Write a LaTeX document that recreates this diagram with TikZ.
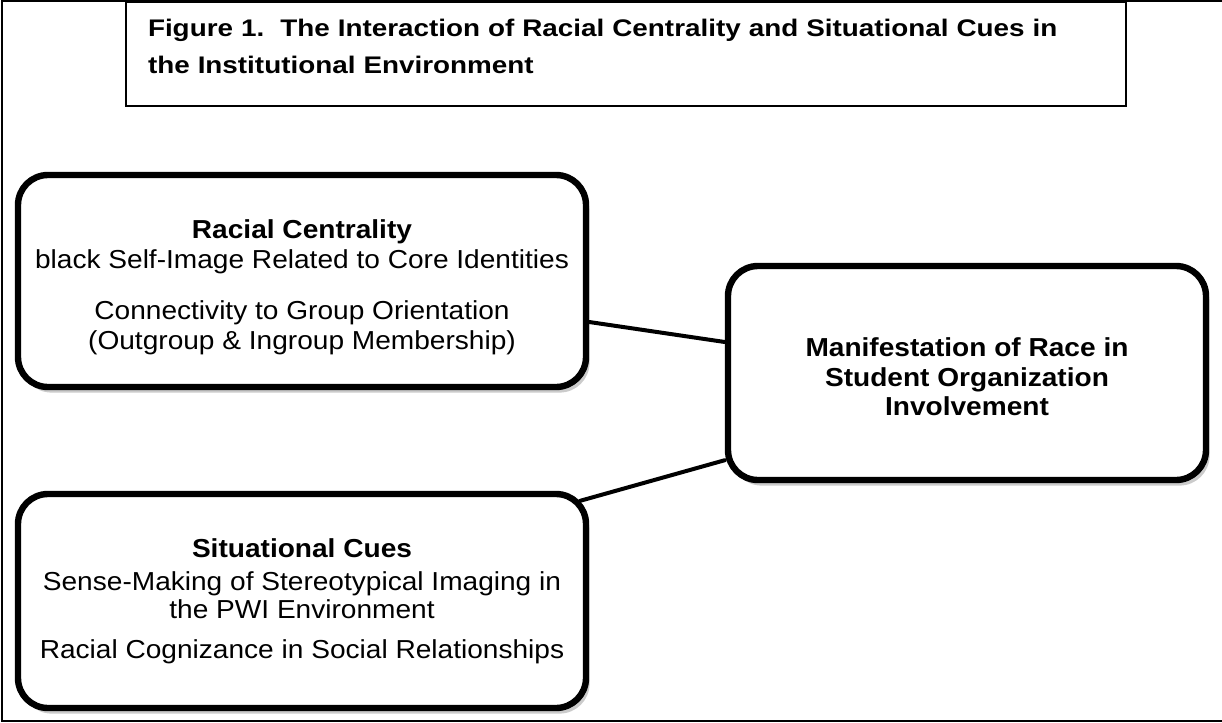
\documentclass[tikz,border=0pt]{standalone}
\usepackage{fontspec}
\setmainfont{Liberation Sans}[FakeStretch=1.08]
\newfontfamily\headfont{Liberation Sans}[FakeStretch=1.16]
\usepackage{xcolor}
\usepackage{tikz}
\usetikzlibrary{shadows,positioning}
\definecolor{ink}{HTML}{000000}
\definecolor{paper}{HTML}{FFFFFF}
\definecolor{shade}{HTML}{8C8C8C}
\tikzset{
  frame/.style={draw=ink, line width=0.9pt},
  titlebox/.style={draw=ink, line width=1pt, anchor=north west, align=left, text width=478pt,
    minimum width=500pt, minimum height=52pt, inner xsep=11pt,
    font=\headfont\bfseries\fontsize{12}{18.5}\selectfont},
  bubble/.style={draw=ink, fill=paper, line width=3.2pt, rounded corners=15pt, align=center,
    minimum width=284pt, minimum height=106pt, font=\fontsize{13}{14}\selectfont,
    drop shadow={shadow xshift=1.8pt, shadow yshift=-2.8pt, fill=shade, opacity=0.45}},
  link/.style={draw=ink, line width=2pt, line cap=round},
}

\begin{document}
\begin{tikzpicture}[x=0.5pt, y=-0.5pt]
\useasboundingbox (0,0) rectangle (1222,723);
\draw[frame] (1222,1) -- (2,1) -- (2,721) -- (1222,721);
\node[titlebox] (title) at (125,1) {Figure 1.\ \ The Interaction of Racial Centrality and Situational Cues in\\the Institutional Environment\rule[-8pt]{0pt}{8pt}};
\node[bubble, font=\fontsize{13}{15}\selectfont] (cent) at (302,281) {\rule{0pt}{15.5pt}\textbf{Racial Centrality}\\
  black Self-Image Related to Core Identities\\[10.5pt]
  Connectivity to Group Orientation\\(Outgroup \& Ingroup Membership)};
\node[bubble, minimum height=107pt] (sit) at (302,601) {\textbf{Situational Cues}\\[2.5pt]
  Sense-Making of Stereotypical Imaging in\\the PWI Environment\\[6pt]
  Racial Cognizance in Social Relationships};
\node[bubble, minimum width=239pt, minimum height=107pt, font=\bfseries\fontsize{13}{14.8}\selectfont] (manif) at (967,373)
  {\rule{0pt}{13.5pt}Manifestation of Race in\\Student Organization\\Involvement};
\draw[link] ([yshift=-20.5pt]cent.east) -- ([yshift=15.5pt]manif.west);
\draw[link] ([xshift=-4.5pt, yshift=-5pt]sit.north east) -- ([yshift=11.5pt]manif.south west);
\end{tikzpicture}
\end{document}
